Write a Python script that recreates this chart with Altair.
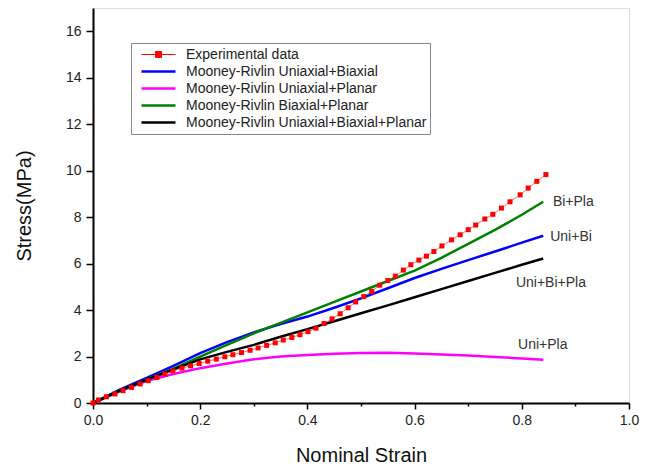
import altair as alt
import pandas as pd

# Experimental data (nominal strain, stress MPa)
exp_strain = [0.0, 0.010, 0.025, 0.041, 0.056, 0.072, 0.088, 0.103, 0.119, 0.134,
              0.149, 0.166, 0.182, 0.198, 0.214, 0.230, 0.246, 0.261, 0.277, 0.293,
              0.308, 0.324, 0.340, 0.355, 0.371, 0.386, 0.401, 0.416, 0.431, 0.446,
              0.461, 0.476, 0.490, 0.505, 0.520, 0.535, 0.550, 0.564, 0.579, 0.593,
              0.608, 0.622, 0.636, 0.651, 0.669, 0.685, 0.700, 0.714, 0.731, 0.746,
              0.762, 0.778, 0.797, 0.812, 0.828, 0.845]
exp_stress = [0.0, 0.13, 0.27, 0.39, 0.53, 0.67, 0.82, 0.96, 1.10, 1.25,
              1.38, 1.50, 1.60, 1.70, 1.80, 1.89, 1.99, 2.08, 2.17, 2.27,
              2.37, 2.48, 2.59, 2.71, 2.82, 2.94, 3.07, 3.22, 3.42, 3.62,
              3.84, 4.10, 4.35, 4.58, 4.80, 5.07, 5.27, 5.46, 5.72, 5.95,
              6.15, 6.32, 6.52, 6.76, 7.02, 7.24, 7.46, 7.66, 7.92, 8.12,
              8.39, 8.66, 8.96, 9.25, 9.54, 9.83]

# Model fits
fit_strain = [0.0, 0.05, 0.10, 0.15, 0.20, 0.25, 0.30, 0.35, 0.40, 0.45,
              0.50, 0.55, 0.60, 0.65, 0.70, 0.75, 0.80, 0.84]
uni_bi = [0.0, 0.58, 1.08, 1.60, 2.15, 2.62, 3.04, 3.40, 3.72, 4.10,
          4.50, 4.94, 5.38, 5.77, 6.15, 6.52, 6.90, 7.20]
uni_pla = [0.0, 0.50, 0.95, 1.25, 1.50, 1.70, 1.88, 2.00, 2.07, 2.12,
           2.15, 2.16, 2.13, 2.09, 2.04, 1.98, 1.92, 1.86]
bi_pla = [0.0, 0.53, 1.00, 1.48, 2.00, 2.50, 3.00, 3.45, 3.90, 4.35,
          4.80, 5.25, 5.70, 6.25, 6.85, 7.45, 8.10, 8.66]
uni_bi_pla = [0.0, 0.53, 1.00, 1.45, 1.88, 2.20, 2.50, 2.85, 3.18, 3.52,
              3.86, 4.20, 4.55, 4.90, 5.25, 5.60, 5.95, 6.22]

series_names = ["Experimental data",
                "Mooney-Rivlin Uniaxial+Biaxial",
                "Mooney-Rivlin Uniaxial+Planar",
                "Mooney-Rivlin Biaxial+Planar",
                "Mooney-Rivlin Uniaxial+Biaxial+Planar"]
series_colors = ["#ff0000", "#0000ff", "#ff00ff", "#008000", "#000000"]

# Annotation labels
ann_text = ["Bi+Pla", "Uni+Bi", "Uni+Bi+Pla", "Uni+Pla"]
ann_strain = [0.858, 0.853, 0.789, 0.793]
ann_stress = [8.66, 7.16, 5.17, 2.50]

x_ticks = [0.0, 0.1, 0.2, 0.3, 0.4, 0.5, 0.6, 0.7, 0.8, 0.9, 1.0]
y_ticks = list(range(0, 18))

rows = []
for s, v in zip(exp_strain, exp_stress):
    rows.append({"series": series_names[0], "strain": s, "stress": v})
for name, vals in zip(series_names[1:], [uni_bi, uni_pla, bi_pla, uni_bi_pla]):
    for s, v in zip(fit_strain, vals):
        rows.append({"series": name, "strain": s, "stress": v})
df = pd.DataFrame(rows)
ann = pd.DataFrame({"label": ann_text, "strain": ann_strain, "stress": ann_stress})

FONT = "Liberation Sans"

xscale = alt.Scale(domain=[0, 1], nice=False)
yscale = alt.Scale(domain=[0, 17], nice=False)

xaxis = alt.Axis(
    values=x_ticks,
    labelExpr="round(datum.value*10) % 2 == 0 ? format(datum.value, '.1f') : ''",
    tickSize={"condition": {"test": "round(datum.value*10) % 2 == 0", "value": 6}, "value": 3},
    title="Nominal Strain", titleFontSize=20, titleFont=FONT, titleFontWeight="normal",
    titleColor="#111", titlePadding=18,
    labelFont=FONT, labelFontSize=14, labelColor="#222", labelPadding=4,
    domainColor="black", domainWidth=2, tickColor="black", tickWidth=1.5,
    grid=False, labelFlush=False, labelOverlap=False,
)
yaxis = alt.Axis(
    values=y_ticks,
    labelExpr="datum.value % 2 == 0 && datum.value < 17 ? format(datum.value, 'd') : ''",
    tickSize={"condition": {"test": "datum.value % 2 == 0", "value": 7}, "value": 4},
    title="Stress(MPa)", titleFontSize=20, titleFont=FONT, titleFontWeight="normal",
    titleColor="#111", titlePadding=31,
    labelFont=FONT, labelFontSize=14, labelColor="#222", labelPadding=5,
    domainColor="black", domainWidth=2, tickColor="black", tickWidth=1.5,
    grid=False, labelFlush=False, labelOverlap=False,
)

EXP_SYM = "M-1,0L3,0M0.65,-0.35L1.35,-0.35L1.35,0.35L0.65,0.35Z"
LINE_SYM = "M-1,0L3,0"

legend = alt.Legend(
    title=None, orient="none", legendX=38, legendY=35, direction="vertical",
    strokeColor="#888888", padding=3, fillColor="white",
    symbolType={"expr": "datum.value === 'Experimental data' ? '" + EXP_SYM + "' : '" + LINE_SYM + "'"},
    symbolFillColor={"expr": "datum.value === 'Experimental data' ? '#ff0000' : 'transparent'"},
    symbolStrokeWidth={"expr": "datum.value === 'Experimental data' ? 1 : 2.5"},
    symbolSize=289, symbolOffset=9,
    labelFont=FONT, labelFontSize=14, labelColor="#222", labelLimit=400,
    labelOffset=29, clipHeight=17, rowPadding=0,
)

base = alt.Chart(df)

models = base.transform_filter(
    alt.datum.series != series_names[0]
).mark_line(strokeWidth=2.5).encode(
    x=alt.X("strain:Q", scale=xscale, axis=xaxis),
    y=alt.Y("stress:Q", scale=yscale, axis=yaxis),
    color=alt.Color("series:N", scale=alt.Scale(domain=series_names, range=series_colors),
                    legend=legend),
    order="strain:Q",
)

exp_line = base.transform_filter(
    alt.datum.series == series_names[0]
).mark_line(strokeWidth=1, color="#ff7070").encode(
    x="strain:Q", y="stress:Q",
)

exp_pts = base.transform_filter(
    alt.datum.series == series_names[0]
).mark_square(size=25, color="#ff0000", opacity=1).encode(
    x="strain:Q", y="stress:Q",
)

labels = alt.Chart(ann).mark_text(
    align="left", baseline="middle", fontSize=14, font=FONT, color="#333"
).encode(x="strain:Q", y="stress:Q", text="label:N")

chart = alt.layer(exp_line, models, exp_pts, labels).properties(
    width=536, height=395,
    autosize=alt.AutoSizeParams(type="none"),
    padding={"left": 93, "top": 8, "right": 35, "bottom": 66},
).configure_view(stroke=None).configure(background="white")

chart.save("out.html", embed_options={"renderer": "svg", "actions": False})
